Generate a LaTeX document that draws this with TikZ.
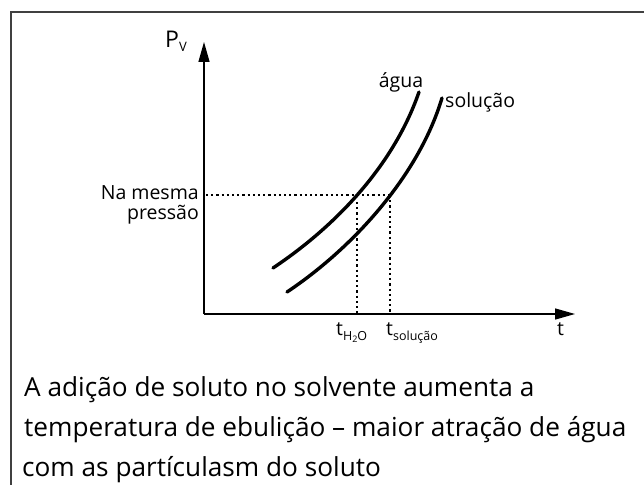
\documentclass[tikz,border=0pt]{standalone}
\usepackage{fontspec}
\setmainfont{Open Sans}
\usetikzlibrary{arrows.meta}
\begin{document}
\begin{tikzpicture}[x=1pt,y=-1pt,
  axis/.style={line width=1.4pt,-{Triangle[length=20pt,width=11pt]}},
  curve/.style={line width=3.4pt,line cap=round},
  guide/.style={line width=1.2pt,dash pattern=on 2.2pt off 3pt},
  lbl/.style={inner sep=0pt,font=\fontsize{19.5}{20}\selectfont},
  body/.style={inner sep=0pt,anchor=base west,font=\fontsize{26.2}{30}\selectfont}]
\useasboundingbox (0,0) rectangle (644,484);
% frame
\draw[line width=1.5pt,draw=black!75] (11,490) -- (11,12) -- (650,12);
% axes
\coordinate (O) at (204,314);
\coordinate (Ytop) at (204,42);
\coordinate (Xend) at (575,314);
\draw[axis] (O) -- (Ytop);
\draw[axis] (O) -- (Xend);
\node[lbl,anchor=base west,font=\fontsize{23}{24}\selectfont] (pv) at (165,48) {P\raisebox{-0.3ex}{\fontsize{13}{14}\selectfont V}};
\node[lbl,anchor=base west] (t) at (557,335) {t};
% curves
\draw[curve] (273,268) .. controls (330,230) and (392,170) .. (419,92);
\draw[curve] (287,292) .. controls (350,250) and (418,178) .. (442,98);
\node[lbl,anchor=base] (agua) at (401,88) {água};
\node[lbl,anchor=base west] (sol) at (445,107) {solução};
% guides
\coordinate (hL) at (206,195);
\coordinate (hR) at (390,195);
\coordinate (v1t) at (357,202);
\coordinate (v1b) at (357,314);
\coordinate (v2b) at (390,314);
\draw[guide] (hL) -- (hR);
\draw[guide] (v1t) -- (v1b);
\draw[guide] (hR) -- (v2b);
\node[lbl,anchor=base east] (nm1) at (199,199) {Na mesma};
\node[lbl,anchor=base east] (nm2) at (199,219) {pressão};
\node[lbl,anchor=base west] (th) at (336,335) {t\raisebox{-0.5ex}{\fontsize{12.5}{14}\selectfont H\raisebox{-0.35ex}{\fontsize{9}{10}\selectfont 2}O}};
\node[lbl,anchor=base west] (ts) at (386,335) {t\raisebox{-0.5ex}{\fontsize{12.5}{14}\selectfont solução}};
% body text
\node[body] (l1) at (24,396) {A adição de soluto no solvente aumenta a};
\node[body] (l2) at (24,436) {temperatura de ebulição – maior atração de água};
\node[body] (l3) at (22,476) {com as partículasm do soluto};
\end{tikzpicture}
\end{document}
